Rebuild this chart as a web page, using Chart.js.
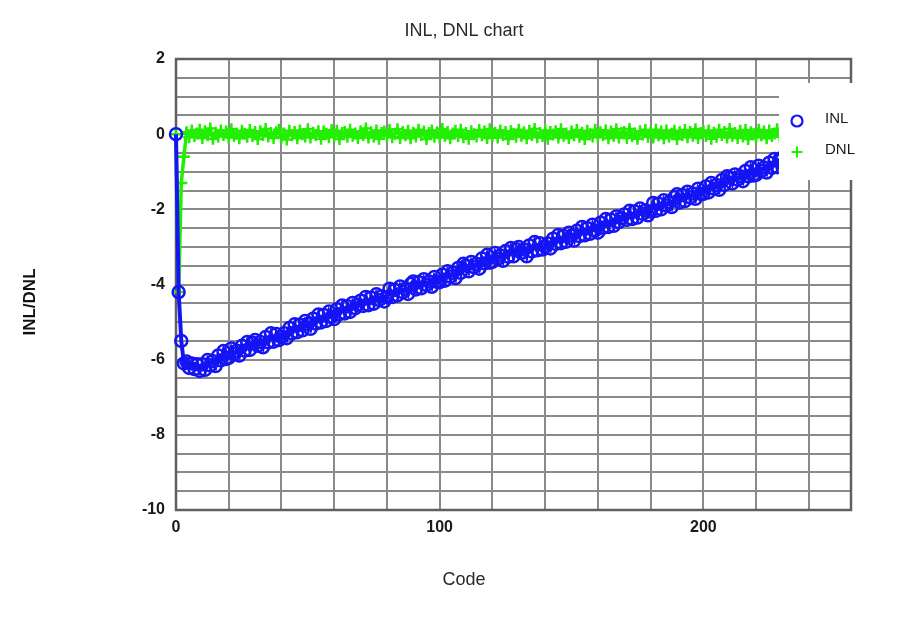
<!DOCTYPE html>
<html>
<head>
<meta charset="utf-8">
<script src="https://cdn.jsdelivr.net/npm/chart.js@4"></script>
<style>
  html, body { margin: 0; padding: 0; background: #ffffff; }
  #wrap { width: 902px; height: 618px; }
</style>
</head>
<body>
<div id="wrap"><canvas id="c" width="902" height="618"></canvas></div>
<script>
const chartTitle = "INL, DNL chart";
const xTitle = "Code";
const yTitle = "INL/DNL";
const seriesNames = ["INL", "DNL"];
const xTickLabels = [0, 100, 200];
const yTickLabels = [2, 0, -2, -4, -6, -8, -10];

const inl = [
  0, -4.2, -5.5, -6.1, -6.05, -6.22, -6.1, -6.25, -6.12, -6.3,
  -6.12, -6.27, -6.01, -6.15, -6.04, -6.17, -5.89, -6.02, -5.77, -5.98,
  -5.95, -5.7, -5.85, -5.76, -5.89, -5.63, -5.76, -5.53, -5.74, -5.55,
  -5.48, -5.63, -5.53, -5.67, -5.4, -5.54, -5.3, -5.52, -5.32, -5.48,
  -5.4, -5.3, -5.43, -5.16, -5.3, -5.06, -5.27, -5.07, -5.22, -4.97,
  -5.05, -5.18, -4.91, -5.04, -4.8, -5.01, -4.81, -4.97, -4.72, -4.86,
  -4.92, -4.66, -4.79, -4.56, -4.77, -4.58, -4.73, -4.49, -4.63, -4.54,
  -4.43, -4.57, -4.33, -4.55, -4.35, -4.51, -4.26, -4.41, -4.31, -4.45,
  -4.34, -4.11, -4.33, -4.14, -4.29, -4.05, -4.2, -4.11, -4.25, -3.99,
  -3.92, -4.13, -3.94, -4.1, -3.86, -4.01, -3.92, -4.06, -3.8, -3.93,
  -3.94, -3.74, -3.9, -3.65, -3.79, -3.69, -3.83, -3.56, -3.69, -3.45,
  -3.5, -3.65, -3.4, -3.54, -3.45, -3.58, -3.31, -3.44, -3.21, -3.42,
  -3.4, -3.16, -3.32, -3.23, -3.37, -3.11, -3.26, -3.03, -3.25, -3.06,
  -3.0, -3.16, -3.07, -3.25, -2.96, -3.12, -2.87, -3.09, -2.9, -3.07,
  -3.0, -2.91, -3.04, -2.78, -2.92, -2.68, -2.9, -2.71, -2.86, -2.62,
  -2.7, -2.83, -2.57, -2.71, -2.47, -2.69, -2.5, -2.65, -2.41, -2.56,
  -2.62, -2.36, -2.49, -2.26, -2.47, -2.28, -2.44, -2.19, -2.34, -2.24,
  -2.14, -2.28, -2.04, -2.26, -2.06, -2.22, -1.98, -2.12, -2.03, -2.16,
  -2.06, -1.83, -2.04, -1.85, -2.0, -1.76, -1.9, -1.81, -1.94, -1.68,
  -1.6, -1.82, -1.62, -1.78, -1.53, -1.68, -1.58, -1.72, -1.45, -1.59,
  -1.59, -1.39, -1.55, -1.3, -1.45, -1.35, -1.48, -1.22, -1.35, -1.12,
  -1.16, -1.31, -1.07, -1.21, -1.12, -1.25, -0.98, -1.12, -0.88, -1.1,
  -1.08, -0.84, -0.98, -0.89, -1.02, -0.76, -0.9, -0.66, -0.88, -0.68,
  -0.62, -0.76, -0.67, -0.8, -0.54, -0.67, -0.44, -0.65, -0.46, -0.61,
  -0.53, -0.44, -0.57, -0.31, -0.44, -0.21, -0.42, -0.23, -0.38, -0.13,
  -0.21, -0.34, -0.08, -0.21, 0.02, -0.19
];

const dnl = [
  0, -4.2, -1.3, -0.6, 0.05, -0.08, 0.1, -0.05, 0.02, 0.12,
  -0.1, 0.08, -0.03, 0.15, -0.12, 0.04, -0.06, 0.1, -0.02, 0.07,
  -0.09, 0.13, -0.04, 0.02, -0.11, 0.09, 0.01, -0.07, 0.11, -0.05,
  0.06, -0.13, 0.08, -0.02, 0.14, -0.06, 0.03, -0.1, 0.05, 0.12,
  -0.08, 0.02, -0.14, 0.09, -0.03, 0.06, -0.11, 0.1, 0.0, -0.06,
  0.13, -0.09, 0.04, -0.02, 0.08, -0.12, 0.07, 0.01, -0.08, 0.11,
  -0.05, 0.09, -0.13, 0.03, 0.06, -0.07, 0.12, -0.04, 0.02, -0.1,
  0.08, -0.02, 0.15, -0.09, 0.05, -0.06, 0.1, -0.12, 0.03, 0.07,
  -0.04, 0.11, -0.08, 0.01, 0.13, -0.1, 0.06, -0.03, 0.09, -0.11,
  0.04, -0.06, 0.12, -0.02, 0.07, -0.13, 0.03, 0.1, -0.07, 0.05,
  -0.09, 0.14, -0.04, 0.06, -0.11, 0.02, 0.09, -0.05, 0.12, -0.08,
  0.03, -0.12, 0.08, 0.0, -0.06, 0.11, -0.03, 0.07, -0.1, 0.13,
  -0.05, 0.04, -0.09, 0.1, -0.02, 0.06, -0.13, 0.08, 0.01, -0.07,
  0.12, -0.04, 0.05, -0.11, 0.09, -0.02, 0.14, -0.08, 0.03, -0.05,
  0.1, -0.12, 0.06, -0.01, 0.08, -0.09, 0.13, -0.04, 0.02, -0.1,
  0.07, -0.03, 0.11, -0.07, 0.04, -0.13, 0.09, 0.0, -0.06, 0.12,
  -0.08, 0.05, -0.02, 0.1, -0.11, 0.07, -0.04, 0.13, -0.09, 0.03,
  0.06, -0.1, 0.14, -0.05, 0.02, -0.12, 0.08, -0.01, 0.11, -0.07,
  0.04, -0.09, 0.12, -0.03, 0.07, -0.11, 0.1, -0.06, 0.01, 0.09,
  -0.13, 0.05, -0.02, 0.11, -0.08, 0.06, -0.04, 0.13, -0.1, 0.03,
  0.08, -0.05, 0.1, -0.12, 0.04, -0.07, 0.12, -0.02, 0.06, -0.09,
  0.14, -0.04, 0.03, -0.1, 0.09, -0.06, 0.11, -0.13, 0.05, 0.0,
  -0.08, 0.12, -0.03, 0.07, -0.11, 0.1, -0.05, 0.02, 0.13, -0.07,
  0.04, -0.1, 0.09, -0.02, 0.06, -0.12, 0.11, -0.04, 0.08, -0.09,
  0.03, 0.12, -0.06, 0.05, -0.11, 0.1, -0.03, 0.07, -0.08, 0.13,
  -0.05, 0.09, -0.1, 0.04, -0.02, 0.06
];

const codes = inl.map((_, i) => i);

const INL_COLOR = '#1414f5';
const DNL_COLOR = '#22ee00';
const GRID_COLOR = '#8a8a8a';
const FRAME_COLOR = '#606060';
const TEXT_COLOR = '#1a1a1a';
const FONT = '"Liberation Sans", Arial, sans-serif';

const frameAndLegend = {
  id: 'frameAndLegend',
  beforeDatasetsDraw(chart) {
    const { ctx, chartArea: a } = chart;
    ctx.save();
    ctx.strokeStyle = FRAME_COLOR;
    ctx.lineWidth = 2.5;
    ctx.strokeRect(a.left, a.top, a.right - a.left, a.bottom - a.top);
    ctx.restore();
  },
  afterDatasetsDraw(chart) {
    const { ctx } = chart;
    ctx.save();
    // legend box
    ctx.fillStyle = '#ffffff';
    ctx.fillRect(779, 83, 123, 97);
    // INL marker
    ctx.strokeStyle = INL_COLOR;
    ctx.lineWidth = 2.2;
    ctx.beginPath();
    ctx.arc(797, 121, 5.5, 0, Math.PI * 2);
    ctx.stroke();
    // DNL marker
    ctx.strokeStyle = DNL_COLOR;
    ctx.lineWidth = 2;
    ctx.beginPath();
    ctx.moveTo(791.5, 152); ctx.lineTo(802.5, 152);
    ctx.moveTo(797, 146.5); ctx.lineTo(797, 157.5);
    ctx.stroke();
    ctx.fillStyle = TEXT_COLOR;
    ctx.font = '15px ' + FONT;
    ctx.textBaseline = 'middle';
    ctx.textAlign = 'left';
    ctx.fillText(seriesNames[0], 825, 119);
    ctx.fillText(seriesNames[1], 825, 150);
    ctx.restore();
  },
  afterDraw(chart) {
    const { ctx } = chart;
    ctx.save();
    ctx.fillStyle = '#2a2a2a';
    ctx.textAlign = 'center';
    ctx.textBaseline = 'alphabetic';
    ctx.font = '18px ' + FONT;
    ctx.fillText(chartTitle, 464, 36);
    ctx.fillText(xTitle, 464, 585);
    ctx.fillStyle = '#111111';
    ctx.translate(30, 302);
    ctx.rotate(-Math.PI / 2);
    ctx.font = 'bold 17px ' + FONT;
    ctx.textBaseline = 'middle';
    ctx.fillText(yTitle, 0, 0);
    ctx.restore();
  }
};

new Chart(document.getElementById('c'), {
  type: 'line',
  data: {
    datasets: [
      {
        label: seriesNames[0],
        data: codes.map((c, i) => ({ x: c, y: inl[i] })),
        borderColor: INL_COLOR,
        backgroundColor: 'rgba(0,0,0,0)',
        borderWidth: 4,
        pointStyle: 'circle',
        pointRadius: 6,
        pointBorderWidth: 2.5,
        pointBorderColor: INL_COLOR,
        pointBackgroundColor: 'rgba(0,0,0,0)',
        tension: 0,
        clip: false
      },
      {
        label: seriesNames[1],
        data: codes.map((c, i) => ({ x: c, y: dnl[i] })),
        borderColor: DNL_COLOR,
        backgroundColor: 'rgba(0,0,0,0)',
        borderWidth: 3.5,
        pointStyle: 'cross',
        pointRadius: 6,
        pointBorderWidth: 2.5,
        pointBorderColor: DNL_COLOR,
        tension: 0,
        clip: false
      }
    ]
  },
  options: {
    responsive: false,
    animation: false,
    events: [],
    layout: { padding: { left: 0, right: 51, top: 59, bottom: 0 } },
    plugins: {
      legend: { display: false },
      title: { display: false },
      tooltip: { enabled: false }
    },
    scales: {
      x: {
        type: 'linear',
        min: 0,
        max: 256,
        afterFit(s) { s.height = 108; },
        grid: { color: GRID_COLOR, lineWidth: 2, drawTicks: false },
        border: { display: false },
        ticks: {
          stepSize: 20,
          autoSkip: false,
          maxRotation: 0,
          padding: 8,
          color: TEXT_COLOR,
          font: { family: FONT, size: 16, weight: 'bold' },
          callback: (v) => xTickLabels.includes(v) ? String(v) : ''
        }
      },
      y: {
        type: 'linear',
        min: -10,
        max: 2,
        afterFit(s) { s.width = 176; },
        grid: { color: GRID_COLOR, lineWidth: 2, drawTicks: false },
        border: { display: false },
        ticks: {
          stepSize: 0.5,
          autoSkip: false,
          padding: 11,
          color: TEXT_COLOR,
          font: { family: FONT, size: 16, weight: 'bold' },
          callback: (v) => yTickLabels.includes(v) ? String(v) : ''
        }
      }
    }
  },
  plugins: [frameAndLegend]
});
</script>
</body>
</html>
